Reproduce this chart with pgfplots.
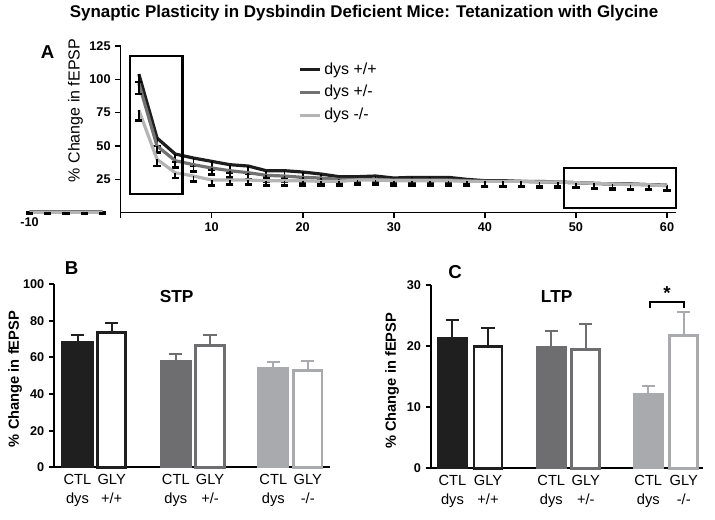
\documentclass[border=0pt]{standalone}
\usepackage{fontspec}
\setmainfont{Liberation Sans}
\usepackage{pgfplots}
\usepackage{pgfplotstable}
\pgfplotsset{compat=1.18}
\definecolor{cA}{HTML}{1E1E1E}
\definecolor{cB}{HTML}{727272}
\definecolor{cC}{HTML}{B4B4B4}
\definecolor{bA}{HTML}{1F1F1F}
\definecolor{bB}{HTML}{6E6E70}
\definecolor{bC}{HTML}{A9AAAD}

\pgfplotstableread{
x b eb g eg l el
-10 0.8 0.8 0.5 0.8 0.3 0.8
-8 0.8 0.8 0.5 0.8 0.3 0.8
-6 0.8 0.8 0.5 0.8 0.3 0.8
-4 0.8 0.8 0.5 0.8 0.3 0.8
-2 0.8 0.8 0.5 0.8 0.3 0.8
0 nan nan nan nan nan nan
2 104 6 97 8 77 8
4 56 6 50 5 40 5
6 44 6 39 5 30 4
8 41 6 36 5 27.5 4
10 38.5 6 33.5 5 24.5 4
12 36 6 31.5 5 24.5 3.5
14 35 6 30 5 24.5 3.5
16 31.5 5 28 4.5 24 3.5
18 31.5 5 27.5 4.5 24 3.5
20 30.5 5 26.5 4 24 3.5
22 29 5 26 4 23.5 3.5
24 27 4 25 4 23.5 3.5
26 27 4 25 4 24.5 3.5
28 27.5 4 25 4 24.5 3.5
30 26 4 24.5 4 24 3.5
32 26.5 4 24.5 4 24 3.5
34 26.5 4 24.5 4 24 3.5
36 26.5 4 24.5 4 24 3.5
38 25 4 24 4 23.5 3.5
40 24 4 23.5 4 23.5 3.5
42 24 4 23.5 4 23.5 3.5
44 23.5 4 23.5 4 23.5 3.5
46 23.5 4 23 4 23 3.5
48 23 4 23 4 23 3.5
50 22.5 4 22.5 4 22.5 3.5
52 22 4 22 4 22 3.5
54 21.5 4 21.5 4 21.5 3.5
56 21.5 4 21.5 4 21 3.5
58 21 4 21 4 21 3.5
60 20.5 4 20.5 4 20 3.5
}\dataA

\begin{document}
\begin{tikzpicture}[x=0.75pt,y=-0.75pt]
\path[use as bounding box] (0,0) rectangle (715,520);
\coordinate (Aorig) at (25.45,212.7);
\coordinate (Borig) at (54.3,467.3);
\coordinate (Corig) at (431,468.3);

\node[font=\bfseries\fontsize{12.7}{15}\selectfont] at (364,13) {Synaptic Plasticity in Dysbindin Deficient Mice: Tetanization with Glycine};
\node[font=\bfseries\fontsize{14}{16}\selectfont] at (47.5,51.7) {A};
\node[font=\bfseries\fontsize{14}{16}\selectfont] at (71.7,268.3) {B};
\node[font=\bfseries\fontsize{14}{16}\selectfont] at (455,272.5) {C};
\node[font=\bfseries\fontsize{13}{15}\selectfont] at (176.7,296.7) {STP};
\node[font=\bfseries\fontsize{13}{15}\selectfont] at (556.7,296.7) {LTP};

% ---------- Panel A ----------
\begin{axis}[
  at={(Aorig)}, anchor=south west, scale only axis,
  width=488pt, height=125pt,
  xmin=-10.45, xmax=61, ymin=0, ymax=125,
  axis x line=bottom, axis y line=middle,
  axis line style={-, line width=1.2pt, black},
  x axis line style={draw=none},
  hide obscured x ticks=false, hide obscured y ticks=false,
  tick align=outside, major tick length=4pt,
  tick style={line width=1.2pt, black},
  xtick={0,10,20,30,40,50,60},
  xticklabels={,10,20,30,40,50,60},
  extra x ticks={-10}, extra x tick style={major tick length=0pt},
  ytick={25,50,75,100,125},
  /pgf/number format/assume math mode=true,
  tick label style={font=\bfseries\fontsize{9.5}{11}\selectfont},
  unbounded coords=jump,
  clip=false,
  every axis y label/.style={at={(axis description cs:0.0769,0.613)}, rotate=90, anchor=center},
  ylabel={\% Change in fEPSP},
  ylabel style={font=\fontsize{12}{14}\selectfont},
  legend style={at={(axis description cs:0.413,0.935)}, anchor=north west, draw=none, fill=none,
    font=\fontsize{12}{14}\selectfont, row sep=3pt},
  legend cell align=left,
  legend image code/.code={\draw[#1] (0pt,0pt) -- (15pt,0pt);},
]
\addplot[cA, line width=2.4pt,
  error bars/.cd, y dir=minus, y explicit,
  error bar style={line width=1.3pt, black},
  error mark options={rotate=90, line width=2pt, mark size=2.7pt, black}]
  table[x=x, y=b, y error=eb] {\dataA};
\addlegendentry{dys +/+}
\addplot[cB, line width=2.4pt,
  error bars/.cd, y dir=minus, y explicit,
  error bar style={line width=1.3pt, black},
  error mark options={rotate=90, line width=2pt, mark size=2.7pt, black}]
  table[x=x, y=g, y error=eg] {\dataA};
\addlegendentry{dys +/-}
\addplot[cC, line width=2.4pt,
  error bars/.cd, y dir=minus, y explicit,
  error bar style={line width=1.3pt, black},
  error mark options={rotate=90, line width=2pt, mark size=2.7pt, black}]
  table[x=x, y=l, y error=el] {\dataA};
\addlegendentry{dys -/-}
\draw[line width=1.2pt, black] (axis cs:0,0) -- (axis cs:61,0);
\draw[line width=1.6pt, black] (axis cs:1,117.5) rectangle (axis cs:6.8,14);
\draw[line width=1.6pt, black] (axis cs:48.7,33.3) rectangle (axis cs:61,3.3);
\end{axis}

% ---------- Panel B ----------
\begin{axis}[
  at={(Borig)}, anchor=south west, scale only axis,
  width=206.8pt, height=137.25pt,
  xmin=54.3, xmax=330, ymin=0, ymax=100,
  axis lines=left,
  axis line style={-, line width=1.5pt, black},
  tick align=outside, major tick length=4pt,
  ytick={0,20,40,60,80,100},
  y tick style={line width=1.5pt, black},
  x tick style={draw=none},
  xtick={77.5,111.7,175.8,210,273.3,307.7},
  xticklabels={{CTL\\dys},{GLY\\+/+},{CTL\\dys},{GLY\\+/-},{CTL\\dys},{GLY\\-/-}},
  x tick label style={align=center, font=\fontsize{11}{14.25}\selectfont, yshift=2pt},
  /pgf/number format/assume math mode=true,
  y tick label style={font=\bfseries\fontsize{9.5}{11}\selectfont},
  every axis y label/.style={at={(axis description cs:-0.1425,0.4825)}, rotate=90, anchor=center},
  ylabel={\% Change in fEPSP},
  ylabel style={font=\bfseries\fontsize{11}{13}\selectfont},
  clip=false,
]
\addplot[ybar, bar width=30, fill=bA, draw=bA, line width=1.5pt,
  error bars/.cd, y dir=plus, y explicit,
  error bar style={line width=1.5pt, bA}, error mark options={rotate=90, line width=1.5pt, mark size=5pt, bA}]
  coordinates {(77.5,68.5) +- (0,3.7)};
\addplot[ybar, bar width=28.5, fill=white, draw=bA, line width=2.2pt,
  error bars/.cd, y dir=plus, y explicit,
  error bar style={line width=1.5pt, bA}, error mark options={rotate=90, line width=1.5pt, mark size=5pt, bA}]
  coordinates {(111.7,73.8) +- (0,5.3)};
\addplot[ybar, bar width=30, fill=bB, draw=bB, line width=1.5pt,
  error bars/.cd, y dir=plus, y explicit,
  error bar style={line width=1.5pt, bB}, error mark options={rotate=90, line width=1.5pt, mark size=5pt, bB}]
  coordinates {(175.8,58.2) +- (0,3.5)};
\addplot[ybar, bar width=28.5, fill=white, draw=bB, line width=2.2pt,
  error bars/.cd, y dir=plus, y explicit,
  error bar style={line width=1.5pt, bB}, error mark options={rotate=90, line width=1.5pt, mark size=5pt, bB}]
  coordinates {(210,66.4) +- (0,6.1)};
\addplot[ybar, bar width=30, fill=bC, draw=bC, line width=1.5pt,
  error bars/.cd, y dir=plus, y explicit,
  error bar style={line width=1.5pt, bC}, error mark options={rotate=90, line width=1.5pt, mark size=5pt, bC}]
  coordinates {(273.3,54.4) +- (0,2.9)};
\addplot[ybar, bar width=28.5, fill=white, draw=bC, line width=2.2pt,
  error bars/.cd, y dir=plus, y explicit,
  error bar style={line width=1.5pt, bC}, error mark options={rotate=90, line width=1.5pt, mark size=5pt, bC}]
  coordinates {(307.7,52.7) +- (0,5.3)};
\end{axis}

% ---------- Panel C ----------
\begin{axis}[
  at={(Corig)}, anchor=south west, scale only axis,
  width=204.2pt, height=137.5pt,
  xmin=431, xmax=703.3, ymin=0, ymax=30,
  axis lines=left,
  axis line style={-, line width=1.5pt, black},
  tick align=outside, major tick length=4pt,
  ytick={0,10,20,30},
  y tick style={line width=1.5pt, black},
  x tick style={draw=none},
  xtick={452.5,488,551.3,585.8,648.3,683.8},
  xticklabels={{CTL\\dys},{GLY\\+/+},{CTL\\dys},{GLY\\+/-},{CTL\\dys},{GLY\\-/-}},
  x tick label style={align=center, font=\fontsize{11}{14.25}\selectfont, yshift=2pt},
  /pgf/number format/assume math mode=true,
  y tick label style={font=\bfseries\fontsize{9.5}{11}\selectfont},
  every axis y label/.style={at={(axis description cs:-0.143,0.477)}, rotate=90, anchor=center},
  ylabel={\% Change in fEPSP},
  ylabel style={font=\bfseries\fontsize{11}{13}\selectfont},
  clip=false,
]
\addplot[ybar, bar width=29.5, fill=bA, draw=bA, line width=1.5pt,
  error bars/.cd, y dir=plus, y explicit,
  error bar style={line width=1.5pt, bA}, error mark options={rotate=90, line width=1.5pt, mark size=5pt, bA}]
  coordinates {(452.5,21.4) +- (0,2.8)};
\addplot[ybar, bar width=28, fill=white, draw=bA, line width=2.2pt,
  error bars/.cd, y dir=plus, y explicit,
  error bar style={line width=1.5pt, bA}, error mark options={rotate=90, line width=1.5pt, mark size=5pt, bA}]
  coordinates {(488,20.0) +- (0,2.9)};
\addplot[ybar, bar width=29.5, fill=bB, draw=bB, line width=1.5pt,
  error bars/.cd, y dir=plus, y explicit,
  error bar style={line width=1.5pt, bB}, error mark options={rotate=90, line width=1.5pt, mark size=5pt, bB}]
  coordinates {(551.3,19.9) +- (0,2.5)};
\addplot[ybar, bar width=28, fill=white, draw=bB, line width=2.2pt,
  error bars/.cd, y dir=plus, y explicit,
  error bar style={line width=1.5pt, bB}, error mark options={rotate=90, line width=1.5pt, mark size=5pt, bB}]
  coordinates {(585.8,19.4) +- (0,4.2)};
\addplot[ybar, bar width=29.5, fill=bC, draw=bC, line width=1.5pt,
  error bars/.cd, y dir=plus, y explicit,
  error bar style={line width=1.5pt, bC}, error mark options={rotate=90, line width=1.5pt, mark size=5pt, bC}]
  coordinates {(648.3,12.2) +- (0,1.3)};
\addplot[ybar, bar width=28, fill=white, draw=bC, line width=2.2pt,
  error bars/.cd, y dir=plus, y explicit,
  error bar style={line width=1.5pt, bC}, error mark options={rotate=90, line width=1.5pt, mark size=5pt, bC}]
  coordinates {(683.8,21.7) +- (0,3.8)};
\draw[line width=1.6pt, black] (axis cs:650,26.2) -- (axis cs:650,27.27) -- (axis cs:684.3,27.27) -- (axis cs:684.3,26.2);
\node[font=\bfseries\fontsize{14}{16}\selectfont] at (axis cs:667,28.6) {*};
\end{axis}
\end{tikzpicture}
\end{document}
